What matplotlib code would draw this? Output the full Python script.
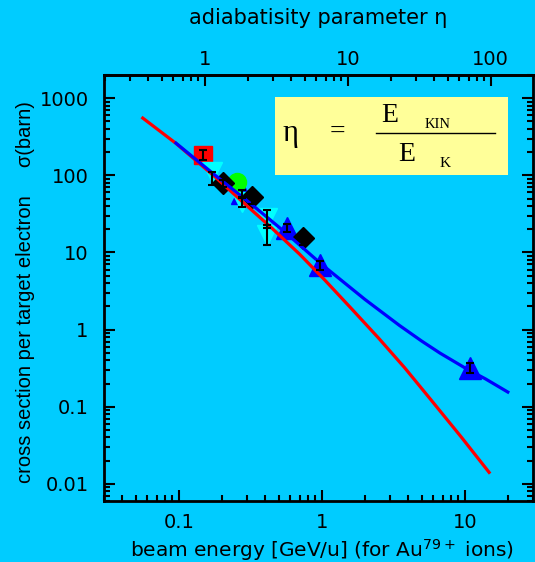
import matplotlib
matplotlib.use('Agg')
import matplotlib.pyplot as plt
from matplotlib.ticker import NullFormatter, LogLocator
from matplotlib.patches import Rectangle

plt.rcParams['font.family'] = ['DejaVu Sans']

# ---------------- data ----------------
# theory curves (beam energy GeV/u, cross section barn)
red_E = [0.056, 0.095, 0.18, 0.28, 0.45, 0.70, 1.05, 1.6, 2.5, 3.8, 5.72, 9.5, 14.8]
red_sigma = [553, 262, 95, 45.1, 20.5, 9.5, 4.39, 1.9, 0.774, 0.32, 0.127, 0.040, 0.0141]

blue_E = [0.0955, 0.18, 0.315, 0.55, 1.0, 2.0, 3.5, 5.0, 6.7, 10.0, 14.0, 20.0]
blue_sigma = [262, 100, 43.7, 18.5, 7.0, 2.47, 1.13, 0.71, 0.497, 0.32, 0.229, 0.155]

# measurements
sq_E = [0.148]
sq_sigma = [183]
sq_err_lo = [25]
sq_err_hi = [30]

cyan_E = [0.171, 0.277, 0.414, 0.414]
cyan_sigma = [110, 45, 28, 17]
cyan_err_lo = [35, 6, 7, 4.5]
cyan_err_hi = [0, 6, 8, 5.5]

blk_E = [0.203, 0.325, 0.739]
blk_sigma = [79.4, 52.4, 15.4]
blk_err_lo = [8, 10, 3]
blk_err_hi = [8, 6, 3]

grn_E = [0.255]
grn_sigma = [81.9]

btri_E = [0.277, 0.571, 0.971, 10.9]
btri_sigma = [59, 20.7, 6.87, 0.317]
btri_err_lo = [6, 2.5, 0.9, 0.04]
btri_err_hi = [6, 3.0, 1.0, 0.05]

E0 = 0.152  # eta = E / E0

x_ticks = [0.1, 1, 10]
x_labels = ['0.1', '1', '10']
y_ticks = [0.01, 0.1, 1, 10, 100, 1000]
y_labels = ['0.01', '0.1', '1', '10', '100', '1000']
top_ticks = [1, 10, 100]
top_labels = ['1', '10', '100']

# ---------------- figure ----------------
BG = '#00CCFF'
fig = plt.figure(figsize=(5.35, 5.62), dpi=100, facecolor=BG)
ax = fig.add_axes([104/535, 1-501/562, 429/535, 426/562])
ax.set_facecolor(BG)
ax.set_xscale('log')
ax.set_yscale('log')
ax.set_xlim(0.03, 30)
ax.set_ylim(0.006, 2000)

# markers (bottom to top)
ax.plot(btri_E, btri_sigma, '^', color='#0000FF', ms=16, zorder=2)
ax.plot(sq_E, sq_sigma, 's', color='#FF0000', ms=13, zorder=2.1)
ax.plot(cyan_E, cyan_sigma, 'v', color='#00FFFF', ms=15, zorder=2.2)
ax.plot(grn_E, grn_sigma, 'o', color='#00FF00', ms=13, zorder=2.3)
ax.plot(blk_E, blk_sigma, 'D', color='black', ms=11, zorder=2.4)

# curves on top of the markers
ax.plot(red_E, red_sigma, color='#FF0000', lw=2.3, zorder=3)
ax.plot(blue_E, blue_sigma, color='#0000FF', lw=2.3, zorder=4)

ekw = dict(fmt='none', ecolor='black', elinewidth=1.5, capsize=3, capthick=1.5, zorder=5)
ax.errorbar(sq_E, sq_sigma, yerr=[sq_err_lo, sq_err_hi], **ekw)
ax.errorbar(cyan_E, cyan_sigma, yerr=[cyan_err_lo, cyan_err_hi], **ekw)
ax.errorbar(blk_E, blk_sigma, yerr=[blk_err_lo, blk_err_hi], **ekw)
ax.errorbar(btri_E, btri_sigma, yerr=[btri_err_lo, btri_err_hi], **ekw)

# ticks
ax.set_xticks(x_ticks, x_labels)
ax.set_yticks(y_ticks, y_labels)
ax.xaxis.set_minor_formatter(NullFormatter())
ax.yaxis.set_minor_formatter(NullFormatter())
ax.yaxis.set_minor_locator(LogLocator(base=10, subs=range(2, 10), numticks=20))
ax.tick_params(which='both', direction='in', width=1.5, colors='black',
               left=True, right=True, bottom=True, top=False)
ax.tick_params(which='major', length=8)
ax.tick_params(which='minor', length=4)
ax.tick_params(axis='x', labelsize=14, pad=9)
ax.tick_params(axis='y', labelsize=14, pad=11)
for s in ax.spines.values():
    s.set_linewidth(2)

secax = ax.secondary_xaxis('top', functions=(lambda e: e / E0, lambda eta: eta * E0))
secax.set_xticks(top_ticks, top_labels)
secax.xaxis.set_minor_formatter(NullFormatter())
secax.tick_params(which='both', direction='in', width=1.5)
secax.tick_params(which='major', length=8, labelsize=14, pad=4)
secax.tick_params(which='minor', length=4)
secax.spines['top'].set_linewidth(2)

# labels
ax.set_xlabel('beam energy [GeV/u] (for Au$^{79+}$ ions)', fontsize=14.5)
ax.xaxis.set_label_coords(0.508, -0.115)
ax.xaxis.label.set_va('center')
ax.set_ylabel('cross section per target electron     σ(barn)', fontsize=14.5,
              family=['Liberation Sans', 'DejaVu Sans'])
ax.yaxis.set_label_coords(-0.184, 0.49)
ax.yaxis.label.set_va('center')
secax.set_xlabel('adiabatisity parameter η', fontsize=15, labelpad=19)

# formula box
ax.add_patch(Rectangle((0.399, 0.765), 0.543, 0.183, transform=ax.transAxes,
                       facecolor='#FFFF99', edgecolor='none', zorder=6))
serif = ['Liberation Serif', 'DejaVu Serif']
tkw = dict(transform=ax.transAxes, family=serif, color='black', zorder=7,
           ha='center', va='center')
ax.text(0.434, 0.862, 'η', fontsize=22, **tkw)
ax.text(0.543, 0.866, '=', fontsize=20, **tkw)
ax.plot([0.634, 0.911], [0.864, 0.864], transform=ax.transAxes, color='black',
        lw=1.0, zorder=7)
ax.text(0.667, 0.905, 'E', fontsize=20, **tkw)
ax.text(0.778, 0.884, 'KIN', fontsize=10.5, **tkw)
ax.text(0.706, 0.814, 'E', fontsize=20, **tkw)
ax.text(0.795, 0.793, 'K', fontsize=11, **tkw)

fig.savefig('out.png', dpi=100, facecolor=BG)
